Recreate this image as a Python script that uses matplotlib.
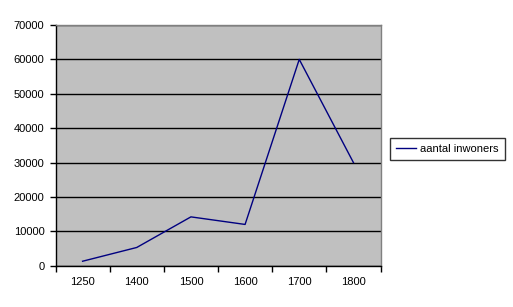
import matplotlib.pyplot as plt
import numpy as np

plt.rcParams['font.family'] = ['Liberation Sans', 'DejaVu Sans']

years = ['1250', '1400', '1500', '1600', '1700', '1800']
inwoners = [1300, 5300, 14200, 12000, 60000, 30000]

fig = plt.figure(figsize=(5.13, 3.07), dpi=100)
fig.patch.set_facecolor('white')
ax = fig.add_axes([55.5 / 513, 1 - 265.7 / 307, 325 / 513, 240.7 / 307])
ax.set_facecolor('#c0c0c0')

x = np.arange(len(years)) + 0.5
ax.plot(x, inwoners, color='#000080', linewidth=1, label='aantal inwoners')

ax.set_xlim(0, len(years))
ax.set_ylim(0, 70000)
ax.set_yticks(np.arange(0, 70001, 10000))
ax.yaxis.grid(True, color='black', linewidth=1)
ax.set_axisbelow(True)

ax.set_xticks(np.arange(len(years) + 1))
ax.set_xticklabels([])
ax.set_xticks(x, minor=True)
ax.set_xticklabels(years, minor=True)
ax.tick_params(axis='x', which='major', length=4, width=1, direction='out')
ax.tick_params(axis='x', which='minor', length=0, pad=8, labelsize=8)
ax.tick_params(axis='y', length=4, width=1, direction='out', pad=4, labelsize=8)

for s in ['left', 'bottom']:
    ax.spines[s].set_color('black')
    ax.spines[s].set_linewidth(1)
for s in ['top', 'right']:
    ax.spines[s].set_color('#808080')
    ax.spines[s].set_linewidth(1)

leg = fig.legend(loc='center', bbox_to_anchor=(447.5 / 513, 1 - 149.3 / 307),
                 frameon=True, fancybox=False, fontsize=8, handlelength=1.8,
                 handletextpad=0.4, borderpad=0.55, borderaxespad=0)
leg.get_frame().set_edgecolor('black')
leg.get_frame().set_linewidth(1)

fig.savefig('out.png', dpi=100)
